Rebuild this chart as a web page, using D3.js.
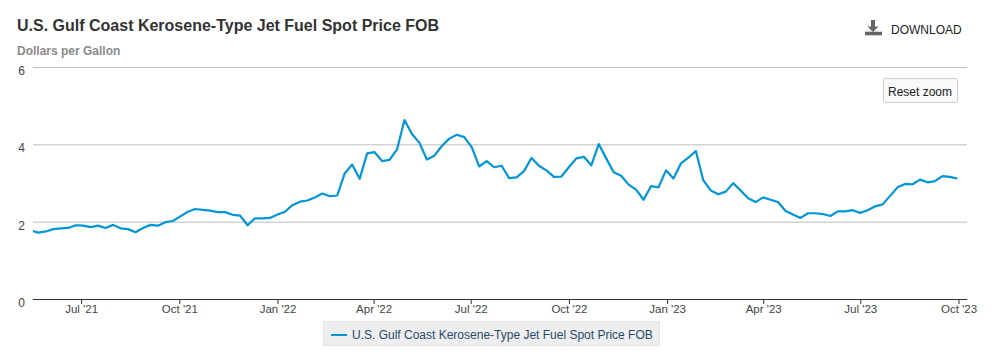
<!DOCTYPE html>
<html>
<head>
<meta charset="utf-8">
<script src="https://cdn.jsdelivr.net/npm/d3@7"></script>
<style>
  html, body { margin: 0; padding: 0; background: #fff; }
  svg { display: block; font-family: "Liberation Sans", Arial, sans-serif; }
</style>
</head>
<body>
<svg id="chart" width="992" height="360"></svg>
<script>
var seriesName = 'U.S. Gulf Coast Kerosene-Type Jet Fuel Spot Price FOB'
var unitLabel = 'Dollars per Gallon'

var weeks2021 = ['2021-05-14', '2021-05-21', '2021-05-28', '2021-06-04', '2021-06-11', '2021-06-18', '2021-06-25',
  '2021-07-02', '2021-07-09', '2021-07-16', '2021-07-23', '2021-07-30', '2021-08-06', '2021-08-13', '2021-08-20', '2021-08-27',
  '2021-09-03', '2021-09-10', '2021-09-17', '2021-09-24', '2021-10-01', '2021-10-08', '2021-10-15', '2021-10-22', '2021-10-29',
  '2021-11-05', '2021-11-12', '2021-11-19', '2021-11-26', '2021-12-03', '2021-12-10', '2021-12-17', '2021-12-24', '2021-12-31']
var weeks2022 = ['2022-01-07', '2022-01-14', '2022-01-21', '2022-01-28', '2022-02-04', '2022-02-11', '2022-02-18', '2022-02-25',
  '2022-03-04', '2022-03-11', '2022-03-18', '2022-03-25', '2022-04-01', '2022-04-08', '2022-04-15', '2022-04-22', '2022-04-29',
  '2022-05-06', '2022-05-13', '2022-05-20', '2022-05-27', '2022-06-03', '2022-06-10', '2022-06-17', '2022-06-24',
  '2022-07-01', '2022-07-08', '2022-07-15', '2022-07-22', '2022-07-29', '2022-08-05', '2022-08-12', '2022-08-19', '2022-08-26',
  '2022-09-02', '2022-09-09', '2022-09-16', '2022-09-23', '2022-09-30', '2022-10-07', '2022-10-14', '2022-10-21', '2022-10-28',
  '2022-11-04', '2022-11-11', '2022-11-18', '2022-11-25', '2022-12-02', '2022-12-09', '2022-12-16', '2022-12-23', '2022-12-30']
var weeks2023 = ['2023-01-06', '2023-01-13', '2023-01-20', '2023-01-27', '2023-02-03', '2023-02-10', '2023-02-17', '2023-02-24',
  '2023-03-03', '2023-03-10', '2023-03-17', '2023-03-24', '2023-03-31', '2023-04-07', '2023-04-14', '2023-04-21', '2023-04-28',
  '2023-05-05', '2023-05-12', '2023-05-19', '2023-05-26', '2023-06-02', '2023-06-09', '2023-06-16', '2023-06-23', '2023-06-30',
  '2023-07-07', '2023-07-14', '2023-07-21', '2023-07-28', '2023-08-04', '2023-08-11', '2023-08-18', '2023-08-25',
  '2023-09-01', '2023-09-08', '2023-09-15', '2023-09-22', '2023-09-29']

var prices = [1.78, 1.73, 1.76, 1.82, 1.84, 1.85, 1.92, 1.91, 1.87, 1.91, 1.85, 1.93, 1.84, 1.82, 1.74, 1.85, 1.93, 1.91, 2.00, 2.03,
  2.15, 2.27, 2.34, 2.32, 2.30, 2.26, 2.26, 2.19, 2.17, 1.92, 2.10, 2.10, 2.11, 2.20, 2.27, 2.44, 2.53, 2.56, 2.64, 2.74,
  2.67, 2.69, 3.26, 3.49, 3.12, 3.78, 3.81, 3.58, 3.61, 3.88, 4.64, 4.28, 4.05, 3.62, 3.72, 3.97, 4.16, 4.26, 4.20, 3.94,
  3.44, 3.58, 3.42, 3.46, 3.14, 3.16, 3.32, 3.66, 3.46, 3.34, 3.17, 3.18, 3.42, 3.65, 3.69, 3.47, 4.02, 3.65, 3.29, 3.20,
  2.97, 2.84, 2.58, 2.93, 2.90, 3.34, 3.13, 3.52, 3.67, 3.84, 3.08, 2.82, 2.72, 2.79, 3.01, 2.82, 2.62, 2.52, 2.64, 2.58,
  2.52, 2.29, 2.20, 2.11, 2.23, 2.23, 2.21, 2.16, 2.28, 2.28, 2.31, 2.24, 2.31, 2.41, 2.46, 2.68, 2.90, 2.99, 2.98, 3.10,
  3.03, 3.06, 3.19, 3.17, 3.13]

var yTicks = [0, 2, 4, 6]
var xTickDates = ['2021-07-01', '2021-10-01', '2022-01-01', '2022-04-01', '2022-07-01', '2022-10-01', '2023-01-01', '2023-04-01', '2023-07-01', '2023-10-01']
var xDomain = ['2021-05-16T10:00', '2023-10-08T12:00']

var parseDay = d3.utcParse('%Y-%m-%d')
var parseStamp = d3.utcParse('%Y-%m-%dT%H:%M')
var dates = weeks2021.concat(weeks2022, weeks2023).map(parseDay)
var data = dates.map((d, i) => ({date: d, value: prices[i]}))

var plot = {left: 33, right: 967, top: 67, bottom: 299}

var x = d3.scaleUtc()
  .domain(xDomain.map(parseStamp))
  .range([plot.left, plot.right])

var y = d3.scaleLinear()
  .domain([0, 6])
  .range([plot.bottom, plot.top])

var svg = d3.select('#chart')

svg.append('defs').append('clipPath')
  .attr('id', 'plot-clip')
  .append('rect')
  .attr('x', plot.left)
  .attr('y', 0)
  .attr('width', plot.right - plot.left)
  .attr('height', 360)

// titles
svg.append('text')
  .attr('x', 17)
  .attr('y', 31)
  .attr('fill', '#333')
  .style('font-size', '16px')
  .style('font-weight', 'bold')
  .text(seriesName)

svg.append('text')
  .attr('x', 17)
  .attr('y', 55)
  .attr('fill', '#8a8a8a')
  .style('font-size', '12px')
  .style('font-weight', 'bold')
  .text(unitLabel)

// y axis, its ticks are the gridlines
var yAxis = svg.append('g')
  .attr('transform', `translate(${plot.left},0)`)
  .call(d3.axisLeft(y).tickValues(yTicks).tickSize(-(plot.right - plot.left)).tickPadding(8).tickFormat(d3.format('d')))

yAxis.select('.domain').remove()
yAxis.selectAll('line').attr('stroke', '#bdbdbd').attr('stroke-width', 1)
yAxis.selectAll('text')
  .attr('dy', '0.62em')
  .attr('fill', '#444')
  .style('font-size', '12px')

// x axis
var xAxis = svg.append('g')
  .attr('transform', `translate(-0.5,${plot.bottom})`)
  .call(d3.axisBottom(x).tickValues(xTickDates.map(parseDay)).tickSize(5).tickSizeOuter(0).tickPadding(0.5).tickFormat(d3.utcFormat("%b '%y")))

xAxis.select('.domain').attr('stroke', '#333')
xAxis.selectAll('line').attr('stroke', '#333')
xAxis.selectAll('text')
  .attr('fill', '#444')
  .style('font-size', '11.5px')

// line, same half pixel offset as the axes
var line = d3.line()
  .x(d => x(d.date))
  .y(d => y(d.value))

svg.append('g')
  .attr('clip-path', 'url(#plot-clip)')
  .append('path')
  .datum(data)
  .attr('transform', 'translate(0.5,0.5)')
  .attr('fill', 'none')
  .attr('stroke', '#0096d7')
  .attr('stroke-width', 2.2)
  .attr('stroke-linejoin', 'round')
  .attr('d', line)

// legend
var legend = svg.append('g').attr('transform', 'translate(323.5,321.5)')

legend.append('rect')
  .attr('width', 336)
  .attr('height', 24)
  .attr('fill', '#eeeeee')
  .attr('stroke', '#e4e4e4')

legend.append('line')
  .attr('x1', 7.5)
  .attr('x2', 23.5)
  .attr('y1', 13.5)
  .attr('y2', 13.5)
  .attr('stroke', '#0096d7')
  .attr('stroke-width', 2)

legend.append('text')
  .attr('x', 28.5)
  .attr('y', 17.5)
  .attr('fill', '#274b6d')
  .style('font-size', '12px')
  .text(seriesName)

// download control
var download = svg.append('g').attr('transform', 'translate(865,20)')

download.append('path')
  .attr('fill', '#666')
  .attr('d', 'M6 0h4v6.5h3.5L8 12 2.5 6.5H6z')

download.append('rect')
  .attr('x', 0)
  .attr('y', 11.7)
  .attr('width', 17)
  .attr('height', 3.6)
  .attr('fill', '#666')

svg.append('text')
  .attr('x', 891)
  .attr('y', 34)
  .attr('fill', '#222')
  .style('font-size', '12px')
  .text('DOWNLOAD')

// reset zoom button
var reset = svg.append('g').attr('transform', 'translate(883.5,78.5)')

reset.append('rect')
  .attr('width', 74)
  .attr('height', 24)
  .attr('rx', 2)
  .attr('fill', '#f9f9f9')
  .attr('stroke', '#cccccc')

reset.append('text')
  .attr('x', 36.5)
  .attr('y', 17)
  .attr('text-anchor', 'middle')
  .attr('fill', '#222')
  .style('font-size', '12px')
  .text('Reset zoom')
</script>
</body>
</html>
